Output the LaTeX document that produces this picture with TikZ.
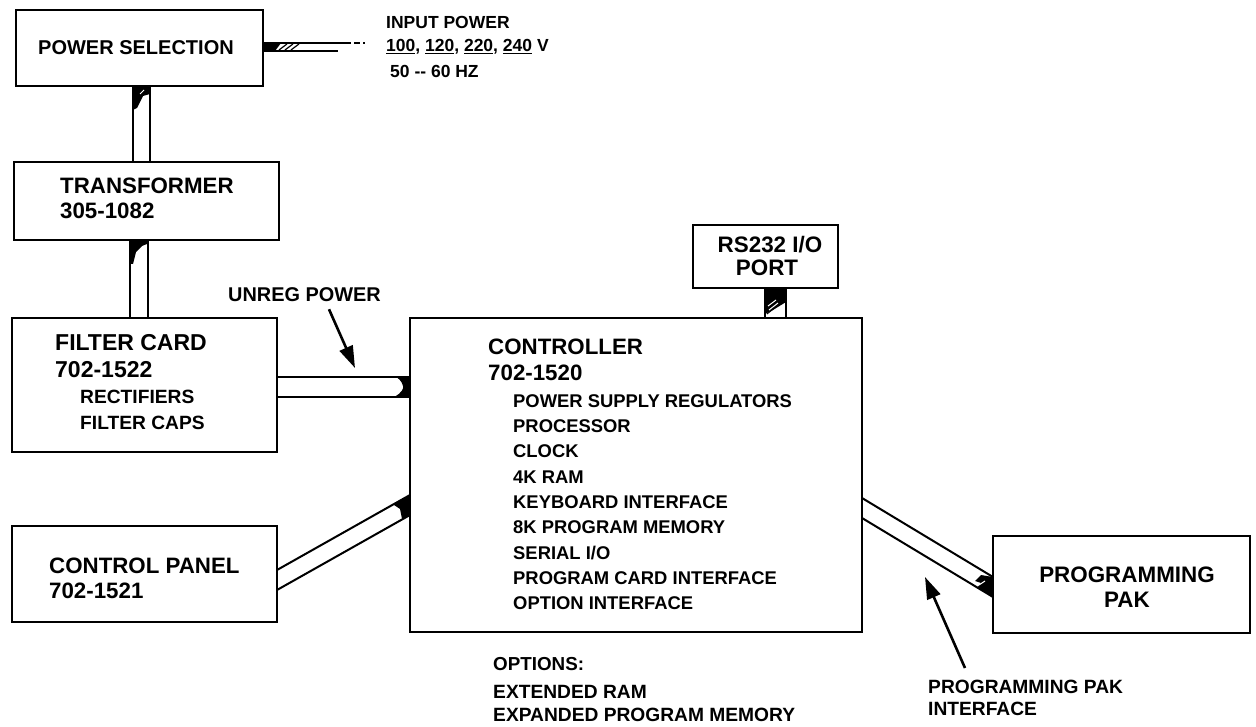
\documentclass[tikz,border=0pt]{standalone}
\usepackage{fontspec}
\setmainfont{Liberation Sans}
\usetikzlibrary{calc,arrows.meta}
\begin{document}
\begin{tikzpicture}[x=1pt,y=-1pt]
\tikzset{
 blk/.style={draw, line width=2.6pt, inner sep=0pt, outer sep=0pt, fill=white},
 lbl/.style={anchor=west, inner sep=0pt, font=\bfseries\fontsize{22.3}{24}\selectfont},
 clbl/.style={inner sep=0pt, font=\bfseries\fontsize{22.4}{24}\selectfont},
 sub/.style={anchor=west, inner sep=0pt, font=\bfseries\fontsize{19.2}{21}\selectfont},
 inp/.style={anchor=west, inner sep=0pt, font=\bfseries\fontsize{17.5}{21}\selectfont},
 item/.style={anchor=west, inner sep=0pt, font=\bfseries\fontsize{18.4}{20}\selectfont},
 busline/.style={line width=2pt},
 arr/.style={line width=2.6pt, -{Triangle[length=22pt,width=14pt]}},
}
\useasboundingbox (0,0) rectangle (1256,727);
% boxes
\node[blk, minimum width=247pt, minimum height=76pt] (ps) at (139.5,48) {};
\node[blk, minimum width=265pt, minimum height=78pt] (tr) at (146.5,201) {};
\node[blk, minimum width=265pt, minimum height=134pt] (fc) at (144.5,385) {};
\node[blk, minimum width=265pt, minimum height=96pt] (cp) at (144.5,574) {};
\node[blk, minimum width=452pt, minimum height=314pt] (ctl) at (636,475) {};
\node[blk, minimum width=145pt, minimum height=63pt] (rs) at (765.5,256.5) {};
\node[blk, minimum width=257pt, minimum height=97pt] (pak) at (1121.5,584.5) {};

% input power bus
\coordinate (i1) at ($(ps.east)+(0,-5)$);
\coordinate (i2) at ($(ps.east)+(0,3)$);
\coordinate (inA) at ($(ps.east)+(82,-5)$);
\coordinate (inB) at ($(ps.east)+(102,-5)$);
\coordinate (inC) at ($(ps.east)+(75,3)$);
\fill (i1) -- ($(i1)+(18,0)$) -- ($(i2)+(12,0)$) -- (i2) -- cycle;
\draw[line width=1.2pt] ($(i2)+(16,-1)$) -- ($(i1)+(24,1)$) ($(i2)+(22,-1)$) -- ($(i1)+(30,1)$) ($(i2)+(28,-1)$) -- ($(i1)+(36,1)$);
\draw[busline] (i1) -- (inA);
\draw[line width=1.4pt, dash pattern=on 6pt off 3pt] (inA) -- (inB);
\draw[busline] (i2) -- (inC);

% power selection -> transformer
\coordinate (a1) at ($(ps.south)+(-6.5,0)$);
\coordinate (a2) at ($(ps.south)+(10.5,0)$);
\coordinate (b1) at ($(tr.north)+(-13.5,0)$);
\coordinate (b2) at ($(tr.north)+(3.5,0)$);
\fill (a1) -- (a2) -- ($(a2)+(0,8)$) -- ($(a1)+(10,10)$) -- ($(a1)+(4,22)$) -- ($(a1)+(0,24)$) -- cycle;
\draw[white, line width=1pt] ($(a1)+(7,8)$) -- ($(a1)+(11,4)$);
\draw[busline] (a1) -- (b1) (a2) -- (b2);

% transformer -> filter card
\coordinate (c1) at ($(tr.south)+(-16.5,0)$);
\coordinate (c2) at ($(tr.south)+(1.5,0)$);
\coordinate (d1) at ($(fc.north)+(-14.5,0)$);
\coordinate (d2) at ($(fc.north)+(3.5,0)$);
\fill (c1) -- (c2) -- ($(c2)+(-1,4)$) -- ($(c1)+(12,6)$) -- ($(c1)+(6,12)$) -- ($(c1)+(3,24)$) -- ($(c1)+(0,24)$) -- cycle;
\draw[busline] (c1) -- (d1) (c2) -- (d2);

% unregulated power bus
\coordinate (u1) at ($(fc.east)+(0,-8)$);
\coordinate (u2) at ($(fc.east)+(0,12)$);
\coordinate (v1) at ($(ctl.west)+(0,-98)$);
\coordinate (v2) at ($(ctl.west)+(0,-78)$);
\fill (v1) -- (v2) -- ($(v2)+(-16,0)$) .. controls ($(v2)+(-8,-4)$) and ($(v2)+(-6,-9)$) .. ($(v1)+(-7,9)$) .. controls ($(v1)+(-8,4)$) and ($(v1)+(-12,1)$) .. ($(v1)+(-14,0)$) -- cycle;
\draw[busline] (u1) -- (v1) (u2) -- (v2);

% control panel bus
\coordinate (p1) at ($(cp.east)+(0,-4)$);
\coordinate (p2) at ($(cp.east)+(0,16)$);
\coordinate (q1) at ($(ctl.west)+(0,20)$);
\coordinate (q2) at ($(ctl.west)+(0,40)$);
\fill (q1) -- (q2) -- ($(q2)+(-8,4)$) -- ($(q2)+(-10,-6)$) -- ($(q1)+(-16,10)$) -- ($(q1)+(-14,8)$) -- cycle;
\draw[busline] (p1) -- (q1) (p2) -- (q2);

% programming pak bus
\coordinate (r1) at ($(ctl.east)+(0,23)$);
\coordinate (r2) at ($(ctl.east)+(0,43)$);
\coordinate (s1) at ($(pak.west)+(0,-7.5)$);
\coordinate (s2) at ($(pak.west)+(0,12.5)$);
\fill (s1) -- (s2) -- ($(s2)+(-16,-9)$) -- ($(s2)+(-12,-14)$) -- ($(s1)+(-18,4)$) -- ($(s1)+(-12,-2)$) -- cycle;
\draw[white, line width=1pt] ($(s1)+(-14,8)$) -- ($(s1)+(-8,4)$);
\draw[busline] (r1) -- (s1) (r2) -- (s2);

% RS232 bus
\coordinate (t1) at ($(rs.south)+(-0.5,0)$);
\coordinate (t2) at ($(rs.south)+(20.5,0)$);
\coordinate (w1) at ($(ctl.north)+(129,0)$);
\coordinate (w2) at ($(ctl.north)+(150,0)$);
\fill (t1) -- (t2) -- ($(t2)+(0,14)$) -- ($(t1)+(8,22)$) -- ($(t1)+(0,26)$) -- cycle;
\draw[white, line width=1pt] ($(t1)+(3,18)$) -- ($(t1)+(11,12)$) ($(t1)+(4,22)$) -- ($(t1)+(13,15)$);
\draw[line width=1pt] ($(t1)+(2,26)$) -- ($(t1)+(12,18)$);
\draw[busline] (t1) -- (w1) (t2) -- (w2);

% texts
\node[lbl, font=\bfseries\fontsize{20}{24}\selectfont] (pst) at (38,48) {POWER SELECTION};
\node[inp] (ip1) at (386,22) {INPUT POWER};
\node[inp] (ip2) at (386,47) {\underline{100}, \underline{120}, \underline{220}, \underline{240} V};
\node[inp] (ip3) at (390,71) {50 -{}- 60 HZ};

\node[lbl] (trt) at (60,186) {TRANSFORMER};
\node[lbl] (trn) at (60,211) {305-1082};

\node[lbl, font=\bfseries\fontsize{23}{24}\selectfont] (fct) at (55,343) {FILTER CARD};
\node[lbl, font=\bfseries\fontsize{23}{24}\selectfont] (fcn) at (55,370) {702-1522};
\node[sub] (fc1) at (80,397) {RECTIFIERS};
\node[sub] (fc2) at (80,423) {FILTER CAPS};

\node[lbl] (cpt) at (49,566) {CONTROL PANEL};
\node[lbl] (cpn) at (49,591) {702-1521};

\node[sub, font=\bfseries\fontsize{19.9}{22}\selectfont] (unreg) at (228,295) {UNREG POWER};
\coordinate (ua) at ($(fc.east)+(78,-17)$);
\draw[arr] ($(unreg.south west)+(101,7)$) -- (ua);

\node[clbl] (rst) at (770,245) {RS232 I/O};
\node[clbl] (rsp) at (767,268) {PORT};

\node[lbl] (ctt) at (488,347) {CONTROLLER};
\node[lbl] (ctn) at (488,373) {702-1520};
\node[item] (c1t) at (513,401) {POWER SUPPLY REGULATORS};
\node[item] (c2t) at (513,426.3) {PROCESSOR};
\node[item] (c3t) at (513,451.6) {CLOCK};
\node[item] (c4t) at (513,476.9) {4K RAM};
\node[item] (c5t) at (513,502.2) {KEYBOARD INTERFACE};
\node[item] (c6t) at (513,527.5) {8K PROGRAM MEMORY};
\node[item] (c7t) at (513,552.8) {SERIAL I/O};
\node[item] (c8t) at (513,578.1) {PROGRAM CARD INTERFACE};
\node[item] (c9t) at (513,603.4) {OPTION INTERFACE};

\node[clbl] (pkt) at (1127,575) {PROGRAMMING};
\node[clbl] (pkp) at (1127,600) {PAK};

\node[sub, font=\bfseries\fontsize{18.8}{22}\selectfont] (opt) at (493,664) {OPTIONS:};
\node[sub] (op1) at (493,692) {EXTENDED RAM};
\node[sub] (op2) at (493,715) {EXPANDED PROGRAM MEMORY};

\node[sub] (ppi1) at (928,687) {PROGRAMMING PAK};
\node[sub] (ppi2) at (928,708.5) {INTERFACE};
\coordinate (pa) at ($(ctl.east)+(63,102)$);
\draw[arr] ($(ppi1.north west)+(37,-12)$) -- (pa);
\end{tikzpicture}
\end{document}
